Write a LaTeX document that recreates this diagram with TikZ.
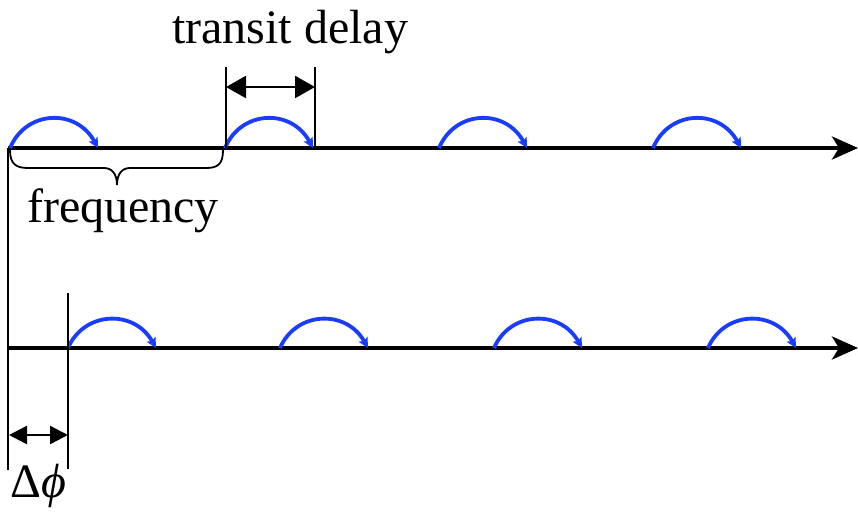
\documentclass[tikz,border=0pt]{standalone}
\usepackage{fontspec}
\setmainfont{Liberation Serif}
\usetikzlibrary{arrows.meta}
\definecolor{arcblue}{RGB}{25,60,255}
\begin{document}
\begin{tikzpicture}[x=1pt,y=-1pt,
  axis/.style={line width=4.5pt,-{Stealth[length=26pt,width=23pt,inset=7pt]}},
  hop/.style={arcblue,line width=3.8pt,-{Stealth[length=10pt,width=10pt,inset=2pt]}},
  guide/.style={line width=1.8pt},
  span/.style={line width=2.4pt,{Triangle[length=20pt,width=22pt]}-{Triangle[length=20pt,width=22pt]}},
  spansmall/.style={line width=2.4pt,{Triangle[length=18pt,width=18pt]}-{Triangle[length=18pt,width=18pt]}},
  lbl/.style={font=\fontsize{48}{56}\selectfont,inner sep=0pt}]
\useasboundingbox (0,0) rectangle (858,513);
% axes
\coordinate (t0) at (8,148);  \coordinate (t1) at (858,148);
\coordinate (b0) at (8,348);  \coordinate (b1) at (858,348);
\draw[axis] (t0) -- (t1);
\draw[axis] (b0) -- (b1);
% hops top
\foreach \a in {10,225,439,653}{
  \draw[hop] (\a,148) .. controls (\a+16,110) and (\a+66,108) .. (\a+88,148);
}
% hops bottom
\foreach \a in {68,280,494,708}{
  \draw[hop] (\a,348) .. controls (\a+16,311) and (\a+66,309) .. (\a+88,348);
}
% guide lines
\coordinate (g1a) at (8,148); \coordinate (g1b) at (8,470);
\coordinate (g2a) at (68,293); \coordinate (g2b) at (68,469);
\coordinate (g3a) at (226,67); \coordinate (g3b) at (226,148);
\coordinate (g4a) at (315,67); \coordinate (g4b) at (315,148);
\draw[guide] (g1a) -- (g1b);
\draw[guide] (g2a) -- (g2b);
\draw[guide] (g3a) -- (g3b);
\draw[guide] (g4a) -- (g4b);
% transit delay arrow
\coordinate (ta) at (226,87); \coordinate (tb) at (315,87);
\draw[span] (ta) -- (tb);
% delta phi arrow
\coordinate (da) at (9,435); \coordinate (db) at (68,435);
\draw[spansmall] (da) -- (db);
% brace
\draw[line width=1.8pt] (10,150) .. controls (10,164) and (16,168) .. (28,168)
  -- (104,168) .. controls (112,168) and (117,174) .. (117,185)
  .. controls (117,174) and (122,168) .. (130,168)
  -- (206,168) .. controls (218,168) and (223,164) .. (223,150);
% labels
\node[lbl] (ltd) at (290,32) {transit delay};
\node[lbl] (lfr) at (123,211) {frequency};
\node[lbl,anchor=west] (ldp) at (10,486) {Δ\textit{ϕ}};
\end{tikzpicture}
\end{document}
